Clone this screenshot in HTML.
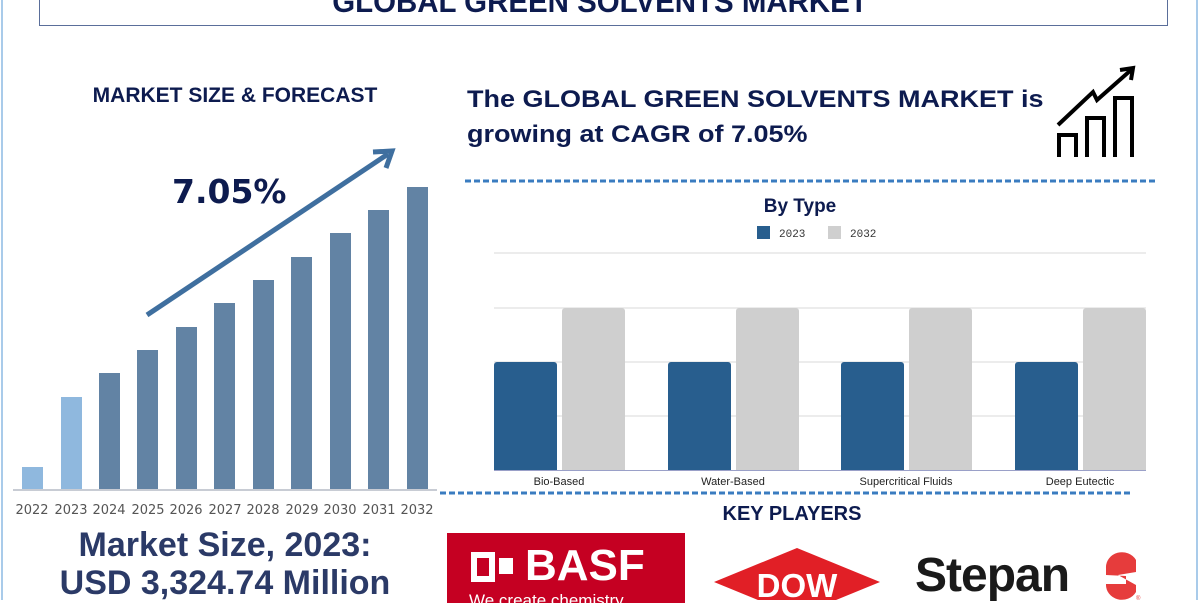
<!DOCTYPE html>
<html><head><meta charset="utf-8">
<style>
html,body{margin:0;padding:0;background:#fff;}
body{width:1200px;height:600px;position:relative;overflow:hidden;font-family:"Liberation Sans",sans-serif;}
.a{position:absolute;}
.nar{font-family:"Liberation Sans",sans-serif;font-weight:bold;color:#0d1b4f;}
</style></head><body>
<div class="a" style="left:1px;top:0;width:2px;height:600px;background:#a9cbea"></div>
<div class="a" style="left:1196px;top:0;width:2px;height:600px;background:#a9cbea"></div>
<div class="a" style="left:39px;top:-10px;width:1127px;height:35px;border:1px solid #5a6e9a;border-top:none;"></div>
<div class="a nar" style="left:0;width:1200px;top:-16px;text-align:center;font-size:31px;line-height:36px;transform:scaleX(0.95)">GLOBAL GREEN SOLVENTS MARKET</div>

<div class="a nar" style="left:50px;width:370px;top:84px;text-align:center;font-size:21px;">MARKET SIZE &amp; FORECAST</div>

<svg class="a" style="left:0;top:0" width="1200" height="600">
<g fill="#6283a4">
<rect x="22" y="467" width="21" height="23" fill="#8fb8de"/>
<rect x="61" y="397" width="21" height="93" fill="#8fb8de"/>
<rect x="99" y="373" width="21" height="117"/>
<rect x="137" y="350" width="21" height="140"/>
<rect x="176" y="327" width="21" height="163"/>
<rect x="214" y="303" width="21" height="187"/>
<rect x="253" y="280" width="21" height="210"/>
<rect x="291" y="257" width="21" height="233"/>
<rect x="330" y="233" width="21" height="257"/>
<rect x="368" y="210" width="21" height="280"/>
<rect x="407" y="187" width="21" height="303"/>
</g>
<line x1="13" y1="490" x2="437" y2="490" stroke="#c8ccd4" stroke-width="2"/>
<g font-size="13" fill="#555" text-anchor="middle" font-family="'DejaVu Sans','Liberation Sans',sans-serif">
<text x="32" y="514">2022</text><text x="71" y="514">2023</text><text x="109" y="514">2024</text><text x="148" y="514">2025</text><text x="186" y="514">2026</text><text x="225" y="514">2027</text><text x="263" y="514">2028</text><text x="302" y="514">2029</text><text x="340" y="514">2030</text><text x="379" y="514">2031</text><text x="417" y="514">2032</text>
</g>
<line x1="147" y1="315" x2="388" y2="154" stroke="#3f6f9f" stroke-width="5"/>
<polyline points="373,152 392,151 386,168" fill="none" stroke="#3f6f9f" stroke-width="5"/>
<text x="172" y="203" font-size="33" font-weight="bold" fill="#0d1b4f" font-family="'DejaVu Sans',sans-serif">7.05%</text>

<g fill="none" stroke="#000" stroke-width="4">
<polyline points="1059,157 1059,135 1076,135 1076,157"/>
<polyline points="1087,157 1087,118 1104,118 1104,157"/>
<polyline points="1115,157 1115,98 1132,98 1132,157"/>
<polyline points="1058,125 1093,92 1097,100 1131,70"/>
<polyline points="1120,70 1133,68 1131,80"/>
</g>

<line x1="465" y1="181" x2="1157" y2="181" stroke="#3a7cc0" stroke-width="3" stroke-dasharray="6,3"/>
<line x1="440" y1="493" x2="1132" y2="493" stroke="#3a7cc0" stroke-width="3" stroke-dasharray="6,3"/>

<g stroke="#e6e6e6" stroke-width="1.5">
<line x1="494" y1="253" x2="1146" y2="253"/><line x1="494" y1="308" x2="1146" y2="308"/>
<line x1="494" y1="362" x2="1146" y2="362"/><line x1="494" y1="416" x2="1146" y2="416"/>
</g>
<g fill="#285e8e">
<path d="M494,470V365a3,3 0 0 1 3,-3H554a3,3 0 0 1 3,3V470Z"/>
<path d="M668,470V365a3,3 0 0 1 3,-3H728a3,3 0 0 1 3,3V470Z"/>
<path d="M841,470V365a3,3 0 0 1 3,-3H901a3,3 0 0 1 3,3V470Z"/>
<path d="M1015,470V365a3,3 0 0 1 3,-3H1075a3,3 0 0 1 3,3V470Z"/>
</g>
<g fill="#cfcfcf">
<path d="M562,470V311a3,3 0 0 1 3,-3H622a3,3 0 0 1 3,3V470Z"/>
<path d="M736,470V311a3,3 0 0 1 3,-3H796a3,3 0 0 1 3,3V470Z"/>
<path d="M909,470V311a3,3 0 0 1 3,-3H969a3,3 0 0 1 3,3V470Z"/>
<path d="M1083,470V311a3,3 0 0 1 3,-3H1143a3,3 0 0 1 3,3V470Z"/>
</g>
<line x1="494" y1="470.5" x2="1146" y2="470.5" stroke="#9aa0c8" stroke-width="1"/>
<g font-size="11" fill="#222" text-anchor="middle" font-family="'Liberation Sans',sans-serif">
<text x="559" y="485">Bio-Based</text><text x="733" y="485">Water-Based</text><text x="906" y="485">Supercritical Fluids</text><text x="1080" y="485">Deep Eutectic</text>
</g>
<text x="800" y="212" font-size="19" font-weight="bold" fill="#0d1b4f" text-anchor="middle" font-family="'Liberation Sans',sans-serif">By Type</text>
<rect x="757" y="226" width="13" height="13" fill="#285e8e"/>
<text x="779" y="237" font-size="11" fill="#333" font-family="'Liberation Mono',monospace">2023</text>
<rect x="828" y="226" width="13" height="13" fill="#cfcfcf"/>
<text x="850" y="237" font-size="11" fill="#333" font-family="'Liberation Mono',monospace">2032</text>

<polygon points="797,548 880,582 797,616 714,582" fill="#e11f26"/>
<text x="797" y="597" font-size="33" font-weight="bold" fill="#fff" text-anchor="middle" font-family="'Liberation Sans',sans-serif">DOW</text>

<path d="M1136,560 A16,15 0 0 0 1106,568 L1106,575 L1126,576 L1126,584 L1106,584 A16,15 0 0 0 1136,592 L1136,585 L1118,575 L1136,572 Z" fill="#e63c3c"/>
<text x="1136" y="600" font-size="6" fill="#e63c3c">®</text>
</svg>

<div class="a" style="left:467px;top:82px;font-size:24px;line-height:35px;font-weight:bold;color:#0d1b4f;white-space:nowrap;transform:scaleX(1.125);transform-origin:left top">The GLOBAL GREEN SOLVENTS MARKET is<br>growing at CAGR of 7.05%</div>

<div class="a nar" style="left:600px;width:384px;top:503px;text-align:center;font-size:20px;">KEY PLAYERS</div>

<div class="a" style="left:447px;top:533px;width:238px;height:70px;background:#c50022;overflow:hidden">
 <div class="a" style="left:24px;top:19px;width:12px;height:18px;border:6px solid #fff;"></div>
 <div class="a" style="left:52px;top:25px;width:14px;height:16px;background:#fff"></div>
 <div class="a" style="left:78px;top:8px;font-size:44px;font-weight:bold;color:#fff;line-height:50px">BASF</div>
 <div class="a" style="left:22px;top:58px;font-size:17px;color:#fff;">We create chemistry</div>
</div>

<div class="a" style="left:915px;top:548px;font-size:48px;font-weight:bold;color:#1a1a1a;line-height:56px;letter-spacing:-1px">Stepan</div>

<div class="a" style="left:0;width:450px;top:526px;text-align:center;font-size:34px;font-weight:bold;color:#2b3a67;font-family:'Liberation Sans',sans-serif;line-height:38px">Market Size, 2023:<br>USD 3,324.74 Million</div>
</body></html>
